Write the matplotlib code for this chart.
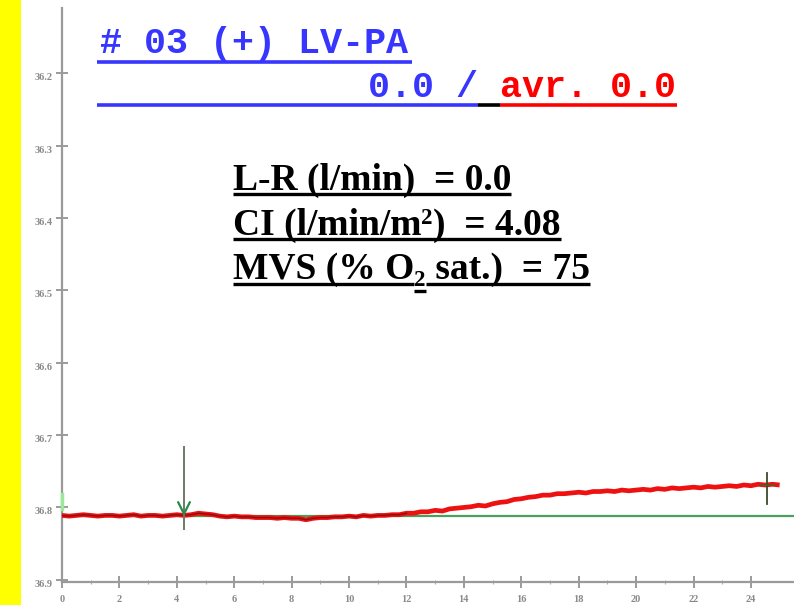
import numpy as np
import matplotlib
matplotlib.use('Agg')
import matplotlib.pyplot as plt
from matplotlib.lines import Line2D
from matplotlib.patches import Rectangle

W, H = 794, 605

# ── Messwerte (Zeit in min, Temperatur in °C) ──
zeit = np.linspace(0, 25, 101)
temperatur = [
    36.811, 36.812, 36.811, 36.810, 36.811, 36.812, 36.811, 36.811, 36.812, 36.811,
    36.810, 36.812, 36.811, 36.811, 36.812, 36.811, 36.810, 36.811, 36.810, 36.808,
    36.809, 36.810, 36.812, 36.813, 36.812, 36.813, 36.813, 36.814, 36.814, 36.814,
    36.815, 36.814, 36.815, 36.815, 36.817, 36.815, 36.814, 36.814, 36.813, 36.813,
    36.812, 36.813, 36.811, 36.812, 36.811, 36.811, 36.810, 36.810, 36.808, 36.808,
    36.806, 36.806, 36.804, 36.805, 36.802, 36.801, 36.800, 36.799, 36.797, 36.798,
    36.795, 36.793, 36.792, 36.789, 36.788, 36.786, 36.785, 36.783, 36.783, 36.781,
    36.781, 36.780, 36.779, 36.780, 36.778, 36.778, 36.777, 36.778, 36.776, 36.777,
    36.776, 36.775, 36.776, 36.774, 36.775, 36.773, 36.774, 36.773, 36.772, 36.773,
    36.771, 36.772, 36.771, 36.770, 36.771, 36.769, 36.770, 36.768, 36.769, 36.768,
    36.769,
]
basislinie = 36.812          # Ausgangswert vor Injektion
injektion_t = 4.25           # Markierung Injektion (Pfeil)
pfeil_oben, pfeil_unten = 36.717, 36.830
ende_t = 24.55               # Markierung Ende
ende_oben, ende_unten = 36.752, 36.795

y_ticks = [36.2, 36.3, 36.4, 36.5, 36.6, 36.7, 36.8, 36.9]
x_ticks = list(range(0, 25, 2))

titel = '# 03 (+) LV-PA'
wert_text = '0.0 /'
mittel_text = 'avr. 0.0'
lr_wert, ci_wert, mvs_wert = '0.0', '4.08', '75'

BLAU = '#3636ff'
ROT = '#ff0000'

fig = plt.figure(figsize=(W / 100, H / 100), dpi=100)
fig.patch.set_facecolor('white')

def fx(x):
    return x / W

def fy(y):
    return 1 - y / H

# gelber Rand links
fig.patches.append(Rectangle((0, 0), fx(21), 1, transform=fig.transFigure,
                             facecolor='#ffff00', edgecolor='none', zorder=0))

ax = fig.add_axes([fx(62), fy(582), 1 - fx(62), fy(8) - fy(582)])
ax.set_facecolor('none')
ax.set_xlim(0, 25.5)
ax.set_ylim(36.903, 36.11)

for s in ['top', 'right']:
    ax.spines[s].set_visible(False)
for s in ['left', 'bottom']:
    ax.spines[s].set_color('#9a9a9a')
    ax.spines[s].set_linewidth(1.6)

ax.set_yticks(y_ticks)
ax.set_yticklabels([f'{v:.1f}' for v in y_ticks])
ax.set_xticks(x_ticks)
ax.set_xticklabels([str(v) for v in x_ticks])
ax.set_xticks(np.arange(1, 25, 2), minor=True)
ax.tick_params(axis='both', which='major', direction='inout', length=8, width=1.2,
               color='#8a8a8a', labelsize=7.5, labelcolor='#8a8a8a')
ax.tick_params(axis='x', which='minor', direction='inout', length=3, width=0.8, color='#b0b0b0')
ax.tick_params(axis='y', pad=3)
ax.tick_params(axis='x', pad=5)
for lab in ax.get_yticklabels():
    lab.set_verticalalignment('top')
    lab.set_fontfamily('Liberation Serif')
    lab.set_fontweight('bold')
for lab in ax.get_xticklabels():
    lab.set_fontfamily('Liberation Serif')
    lab.set_fontweight('bold')

# Basislinie und Messkurve
ax.plot([0, 25.5], [basislinie, basislinie], color='#4aa05a', lw=1.6, zorder=2)
ax.plot([0, 0], [36.782, 36.802], color='#9be89b', lw=2.5, zorder=3, clip_on=False)
ax.plot(zeit, temperatur, color='#ee1111', lw=3.4, zorder=3, solid_capstyle='butt')
flach = zeit <= 12
ax.plot(zeit[flach], np.array(temperatur)[flach], color='#5a1010', lw=1.0, alpha=0.7, zorder=4)

# Injektionspfeil
ax.plot([injektion_t, injektion_t], [pfeil_oben, pfeil_unten], color='#6a7a6a', lw=1.4, zorder=5)
ax.plot([injektion_t - 0.2, injektion_t, injektion_t + 0.2],
        [basislinie - 0.019, basislinie - 0.003, basislinie - 0.019],
        color='#2a8a4a', lw=1.6, zorder=6)

# Endmarkierung
ax.plot([ende_t, ende_t], [ende_oben, ende_unten], color='#3a4a2a', lw=1.3, zorder=5)
ax.plot([ende_t - 0.25, ende_t + 0.25], [36.769, 36.769], color='#5a5a20', lw=1.2, zorder=5)

# ── Überschrift (blau / rot) ──
mono = dict(family='Liberation Mono', weight='bold', fontsize=26.5)
fig.text(fx(100), fy(53), titel, color=BLAU, va='baseline', **mono)
fig.text(fx(368), fy(97), wert_text, color=BLAU, va='baseline', **mono)
fig.text(fx(500), fy(97), mittel_text, color=ROT, va='baseline', **mono)

def linie(x0, x1, y, farbe, lw):
    fig.add_artist(Line2D([fx(x0), fx(x1)], [fy(y), fy(y)], color=farbe, lw=lw,
                          transform=fig.transFigure, solid_capstyle='butt'))

linie(97, 412, 62, BLAU, 2.6)
linie(97, 478, 105, BLAU, 2.6)
linie(478, 500, 105, 'black', 2.6)
linie(500, 677, 105, ROT, 2.6)

# ── Ergebnisblock ──
renderer = fig.canvas.get_renderer()
serif = dict(family='Liberation Serif', weight='bold', color='black')

def stueck(x, y, s, size):
    t = fig.text(fx(x), fy(y), s, va='baseline', fontsize=size, **serif)
    bb = t.get_window_extent(renderer)
    return bb.x1

gr = 27
x0 = 233
e = stueck(x0, 190, f'L-R (l/min)  = {lr_wert}', gr)
linie(x0, e, 194, 'black', 2.4)

e = stueck(x0, 235, 'CI (l/min/m', gr)
e = stueck(e, 224, '2', 16.5)
e = stueck(e, 235, f')  = {ci_wert}', gr)
linie(x0, e, 239, 'black', 2.4)

e1 = stueck(x0, 279, 'MVS (% O', gr)
e2 = stueck(e1, 286, '2', 16.5)
e3 = stueck(e2, 279, f' sat.)  = {mvs_wert}', gr)
linie(x0, e1, 284, 'black', 2.4)
linie(e1, e2, 291, 'black', 2.4)
linie(e2, e3, 284, 'black', 2.4)

fig.savefig('out.png', dpi=100)
